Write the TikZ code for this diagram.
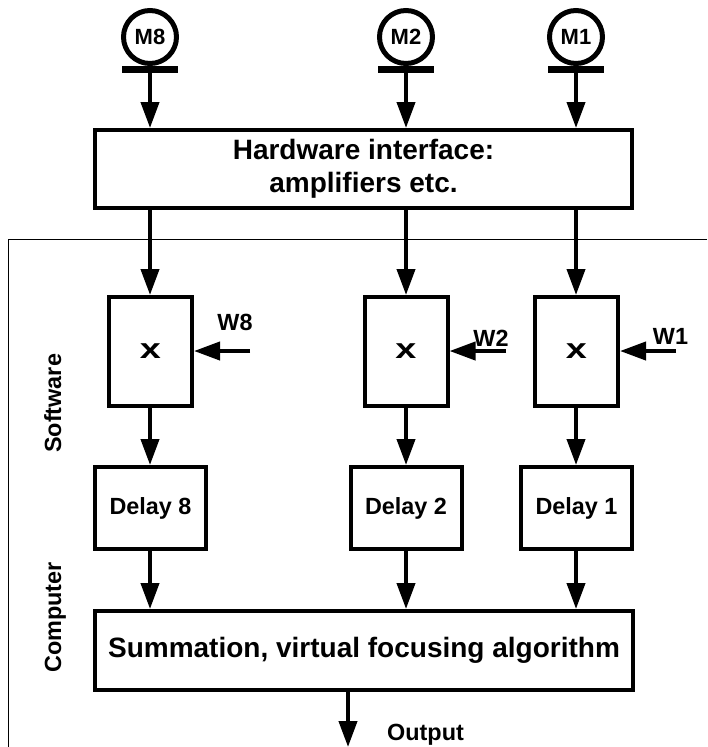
\documentclass[tikz,border=0pt]{standalone}
\usepackage{fontspec}
\usepackage{graphicx}
\setmainfont{Liberation Sans}
\usetikzlibrary{arrows.meta}
\begin{document}
\begin{tikzpicture}[x=1pt,y=-1pt,
  every node/.style={inner sep=0pt,font=\fontsize{23.4}{28}\selectfont\bfseries},
  >={Triangle[length=26pt,width=18pt]},
  flow/.style={->,line width=4pt},
  box/.style={draw,line width=4pt},
  big/.style={font=\fontsize{28}{33}\selectfont\bfseries},
  mic/.style={draw,circle,line width=5pt,minimum size=53pt,
              font=\fontsize{22}{26}\selectfont\bfseries},
  bar/.style={line width=7pt}]
\useasboundingbox (0,0) rectangle (707,747);
\draw[line width=1pt] (707,239) -- (8,239) -- (8,747);

\node[mic] (m8) at (150,37) {M8};
\node[mic] (m2) at (406,37) {M2};
\node[mic] (m1) at (576,37) {M1};
\coordinate (b8) at (150,69);
\coordinate (b2) at (406,69);
\coordinate (b1) at (576,69);
\draw[bar] ([xshift=-28pt]b8) -- ([xshift=28pt]b8);
\draw[bar] ([xshift=-28pt]b2) -- ([xshift=28pt]b2);
\draw[bar] ([xshift=-28pt]b1) -- ([xshift=28pt]b1);

\node[box,big,align=center,minimum width=537pt,minimum height=78pt]
  (hw) at (363.5,169) {Hardware interface:\\amplifiers etc.};

\node[box,big,minimum width=83pt,minimum height=109pt] (x8) at (150.5,351.5) {\scalebox{1.35}[1]{x}};
\node[box,big,minimum width=83pt,minimum height=109pt] (x2) at (406,351.5) {\scalebox{1.35}[1]{x}};
\node[box,big,minimum width=83pt,minimum height=109pt] (x1) at (576.5,351.5) {\scalebox{1.35}[1]{x}};

\node[box,minimum width=111pt,minimum height=82pt] (d8) at (150.5,508) {Delay 8};
\node[box,minimum width=111pt,minimum height=82pt] (d2) at (406,508) {Delay 2};
\node[box,minimum width=111pt,minimum height=82pt] (d1) at (576.5,508) {Delay 1};

\node[box,big,minimum width=538pt,minimum height=79pt]
  (sum) at (364,650.5) {Summation, virtual focusing algorithm};

\node (sw) [rotate=90,anchor=base west] at (61,453) {Software};
\node (pc) [rotate=90,anchor=base west] at (61,673) {Computer};

\coordinate (w8) at (250,351);
\coordinate (w2) at (506,351);
\coordinate (w1) at (676,351);
\node (lw8) at (235,322.5) {W8};
\node (lw2) at (491,338) {W2};
\node (lw1) at (670.5,336) {W1};

\coordinate (out) at (348,747);
\node (lout) [anchor=base west] at (387,740) {Output};

\draw[flow] (b8) -- (hw.north -| b8);
\draw[flow] (b2) -- (hw.north -| b2);
\draw[flow] (b1) -- (hw.north -| b1);
\draw[flow] (hw.south -| b8) -- (x8.north -| b8);
\draw[flow] (hw.south -| b2) -- (x2.north);
\draw[flow] (hw.south -| b1) -- (x1.north -| b1);
\draw[flow] (w8) -- (x8.east |- w8);
\draw[flow] (w2) -- (x2.east |- w2);
\draw[flow] (w1) -- (x1.east |- w1);
\draw[flow] (x8.south -| b8) -- (d8.north -| b8);
\draw[flow] (x2.south) -- (d2.north);
\draw[flow] (x1.south -| b1) -- (d1.north -| b1);
\draw[flow] (d8.south -| b8) -- (sum.north -| b8);
\draw[flow] (d2.south) -- (sum.north -| d2);
\draw[flow] (d1.south -| b1) -- (sum.north -| b1);
\draw[flow] (sum.south -| out) -- (out);
\end{tikzpicture}
\end{document}
